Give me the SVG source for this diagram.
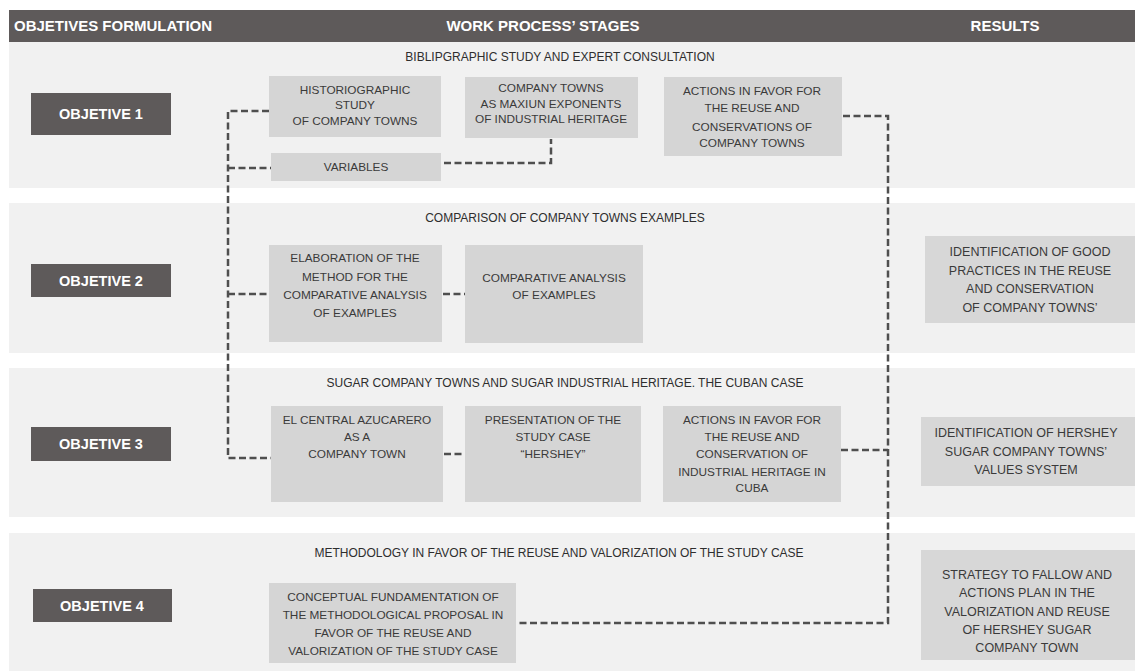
<svg xmlns="http://www.w3.org/2000/svg" width="1135" height="671" viewBox="0 0 1135 671">
<style>
.hdr{fill:#5e5a5a}
.band{fill:#f1f1f1}
.obj{fill:#5e5a5a}
.box{fill:#d5d5d5}
.res{fill:#d7d7d7}
.ht{font-family:"Liberation Sans",Arial,sans-serif;font-size:15px;font-weight:bold;fill:#ffffff}
.ot{font-family:"Liberation Sans",Arial,sans-serif;font-size:14.5px;font-weight:bold;fill:#ffffff;text-anchor:middle}
.st{font-family:"Liberation Sans",Arial,sans-serif;font-size:12px;fill:#2e2e2e;text-anchor:middle}
.bt{font-family:"Liberation Sans",Arial,sans-serif;font-size:11.8px;fill:#3a3a3a;text-anchor:middle}
.rt{font-family:"Liberation Sans",Arial,sans-serif;font-size:12.5px;fill:#3a3a3a;text-anchor:middle}
.con{fill:none;stroke:#4f4f4f;stroke-width:2.5;stroke-dasharray:7 3.5}
</style>
<rect width="1135" height="671" fill="#ffffff"/>
<g id="header">
<rect class="hdr" x="9" y="10" width="1126" height="32"/>
<text class="ht" x="14" y="31">OBJETIVES FORMULATION</text>
<text class="ht" x="543" y="31" text-anchor="middle">WORK PROCESS’ STAGES</text>
<text class="ht" x="1005" y="31" text-anchor="middle" font-size="14">RESULTS</text>
</g>
<g id="bands">
<rect class="band" x="9" y="42" width="1126" height="146"/>
<rect class="band" x="9" y="203" width="1126" height="150"/>
<rect class="band" x="9" y="368" width="1126" height="149"/>
<rect class="band" x="9" y="533" width="1126" height="138"/>
<text class="st" x="560" y="61">BIBLIPGRAPHIC STUDY AND EXPERT CONSULTATION</text>
<text class="st" x="565" y="222">COMPARISON OF COMPANY TOWNS EXAMPLES</text>
<text class="st" x="565" y="387" font-size="13">SUGAR COMPANY TOWNS AND SUGAR INDUSTRIAL HERITAGE. THE CUBAN CASE</text>
<text class="st" x="559" y="557" font-size="13">METHODOLOGY IN FAVOR OF THE REUSE AND VALORIZATION OF THE STUDY CASE</text>
</g>
<g id="objective1"><rect class="obj" x="31" y="93" width="140" height="42"/><text class="ot" x="101" y="119">OBJETIVE 1</text></g>
<g id="objective2"><rect class="obj" x="31" y="264" width="140" height="33"/><text class="ot" x="101" y="286">OBJETIVE 2</text></g>
<g id="objective3"><rect class="obj" x="31" y="427" width="140" height="34"/><text class="ot" x="101" y="449">OBJETIVE 3</text></g>
<g id="objective4"><rect class="obj" x="33" y="589" width="139" height="33"/><text class="ot" x="102" y="611">OBJETIVE 4</text></g>
<g id="historiographic"><rect class="box" x="269" y="76" width="172" height="61"/>
<text class="bt" x="355" y="94">HISTORIOGRAPHIC</text><text class="bt" x="355" y="109">STUDY</text><text class="bt" x="355" y="125">OF COMPANY TOWNS</text></g>
<g id="companytowns"><rect class="box" x="465" y="77" width="173" height="61"/>
<text class="bt" x="551" y="92">COMPANY TOWNS</text><text class="bt" x="551" y="108">AS MAXIUN EXPONENTS</text><text class="bt" x="551" y="123">OF INDUSTRIAL HERITAGE</text></g>
<g id="actions1"><rect class="box" x="664" y="77" width="178" height="79"/>
<text class="bt" x="752" y="95">ACTIONS IN FAVOR FOR</text><text class="bt" x="752" y="112">THE REUSE AND</text><text class="bt" x="752" y="131">CONSERVATIONS OF</text><text class="bt" x="752" y="147">COMPANY TOWNS</text></g>
<g id="variables"><rect class="box" x="271" y="153" width="170" height="28"/>
<text class="bt" x="356" y="171">VARIABLES</text></g>
<g id="elaboration"><rect class="box" x="269" y="245" width="173" height="97"/>
<text class="bt" x="355" y="262">ELABORATION OF THE</text><text class="bt" x="355" y="281">METHOD FOR THE</text><text class="bt" x="355" y="299">COMPARATIVE ANALYSIS</text><text class="bt" x="355" y="317">OF EXAMPLES</text></g>
<g id="comparative"><rect class="box" x="465" y="245" width="178" height="98"/>
<text class="bt" x="554" y="282">COMPARATIVE ANALYSIS</text><text class="bt" x="554" y="299">OF EXAMPLES</text></g>
<g id="result2"><rect class="res" x="925" y="236" width="210" height="87"/>
<text class="rt" x="1030" y="256">IDENTIFICATION OF GOOD</text><text class="rt" x="1030" y="275">PRACTICES IN THE REUSE</text><text class="rt" x="1030" y="293">AND CONSERVATION</text><text class="rt" x="1030" y="312">OF COMPANY TOWNS’</text></g>
<g id="elcentral"><rect class="box" x="271" y="406" width="172" height="96"/>
<text class="bt" x="357" y="424">EL CENTRAL AZUCARERO</text><text class="bt" x="357" y="441">AS A</text><text class="bt" x="357" y="458">COMPANY TOWN</text></g>
<g id="presentation"><rect class="box" x="465" y="406" width="176" height="96"/>
<text class="bt" x="553" y="424">PRESENTATION OF THE</text><text class="bt" x="553" y="441">STUDY CASE</text><text class="bt" x="553" y="458">“HERSHEY”</text></g>
<g id="actions3"><rect class="box" x="663" y="406" width="178" height="96"/>
<text class="bt" x="752" y="424">ACTIONS IN FAVOR FOR</text><text class="bt" x="752" y="441">THE REUSE AND</text><text class="bt" x="752" y="458">CONSERVATION OF</text><text class="bt" x="752" y="476">INDUSTRIAL HERITAGE IN</text><text class="bt" x="752" y="492">CUBA</text></g>
<g id="result3"><rect class="res" x="921" y="417" width="214" height="69"/>
<text class="rt" x="1026" y="437">IDENTIFICATION OF HERSHEY</text><text class="rt" x="1026" y="456">SUGAR COMPANY TOWNS’</text><text class="rt" x="1026" y="474">VALUES SYSTEM</text></g>
<g id="conceptual"><rect class="box" x="269" y="583" width="247" height="80"/>
<text class="bt" x="393" y="601">CONCEPTUAL FUNDAMENTATION OF</text><text class="bt" x="393" y="619">THE METHODOLOGICAL PROPOSAL IN</text><text class="bt" x="393" y="637">FAVOR OF THE REUSE AND</text><text class="bt" x="393" y="655">VALORIZATION OF THE STUDY CASE</text></g>
<g id="result4"><rect class="res" x="921" y="550" width="214" height="110"/>
<text class="rt" x="1027" y="579">STRATEGY TO FALLOW AND</text><text class="rt" x="1027" y="597">ACTIONS PLAN IN THE</text><text class="rt" x="1027" y="616">VALORIZATION AND REUSE</text><text class="rt" x="1027" y="634">OF HERSHEY SUGAR</text><text class="rt" x="1027" y="652">COMPANY TOWN</text></g>
<g id="connectors">
<path class="con" d="M269,111 H228 V458 H271"/>
<path class="con" d="M228,168 H271"/>
<path class="con" d="M228,294 H269"/>
<path class="con" d="M444,163 H551 V139"/>
<path class="con" d="M443,294 H465"/>
<path class="con" d="M444,454 H465"/>
<path class="con" d="M843,116 H888 V623 H516"/>
<path class="con" d="M841,450 H888"/>
</g>
</svg>
